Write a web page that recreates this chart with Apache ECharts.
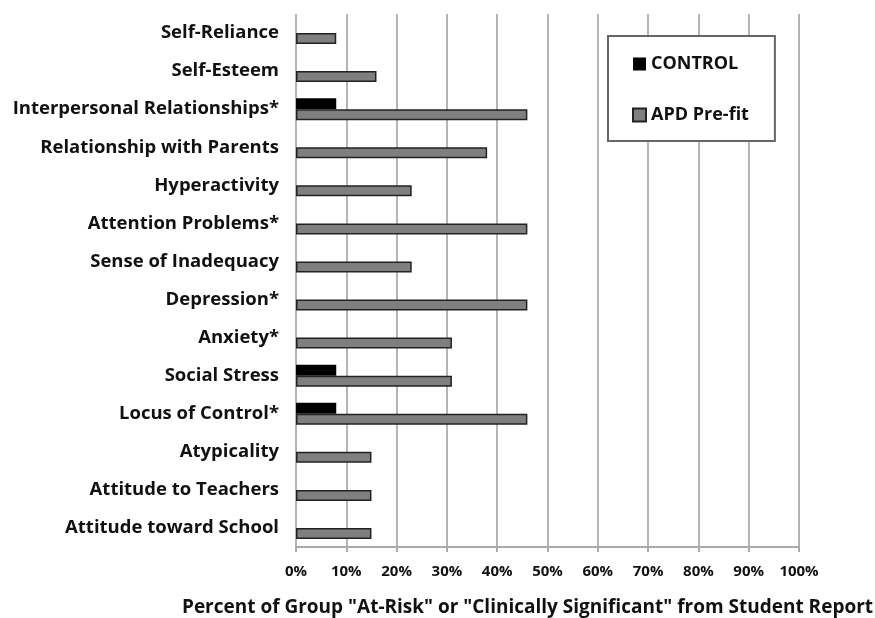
<!DOCTYPE html>
<html>
<head>
<meta charset="utf-8">
<script src="https://cdn.jsdelivr.net/npm/echarts@6/dist/echarts.min.js"></script>
<style>
  html, body { margin: 0; padding: 0; background: #fff; }
  #main { width: 875px; height: 618px; }
</style>
</head>
<body>
<div id="main"></div>
<script>
// categories, top to bottom
var categories = [
  'Self-Reliance', 'Self-Esteem', 'Interpersonal Relationships*',
  'Relationship with Parents', 'Hyperactivity', 'Attention Problems*',
  'Sense of Inadequacy', 'Depression*', 'Anxiety*', 'Social Stress',
  'Locus of Control*', 'Atypicality', 'Attitude to Teachers',
  'Attitude toward School'
]
// percent at-risk / clinically significant
var control = [0, 0, 8, 0, 0, 0, 0, 0, 0, 8, 8, 0, 0, 0]
var apdPrefit = [8, 16, 46, 38, 23, 46, 23, 46, 31, 31, 46, 15, 15, 15]

var font = '"Open Sans", sans-serif'

var chart = echarts.init(document.getElementById('main'))
chart.setOption({
  animation: false,
  backgroundColor: '#fff',
  textStyle: { fontFamily: font },
  grid: { left: 296, right: 76, top: 14, bottom: 71, containLabel: false, outerBoundsMode: 'none' },
  legend: {
    orient: 'vertical',
    left: 608, top: 36,
    padding: [19, 26, 17, 24],
    itemGap: 33,
    itemWidth: 13, itemHeight: 13,
    icon: 'rect',
    borderColor: '#666', borderWidth: 2,
    backgroundColor: '#fff',
    textStyle: { fontFamily: font, fontSize: 18, fontWeight: 'bold', color: '#111' },
    data: ['CONTROL', 'APD Pre-fit']
  },
  xAxis: {
    type: 'value',
    min: 0, max: 100, interval: 10,
    name: 'Percent of Group "At-Risk" or "Clinically Significant" from Student Report',
    nameLocation: 'middle',
    nameGap: 51,
    nameTextStyle: { fontFamily: font, fontSize: 19, fontWeight: 'bold', color: '#111', padding: [0, 40, 0, 0] },
    axisLine: { show: true, lineStyle: { color: '#aaa', width: 2 } },
    axisTick: { show: true, length: 5, lineStyle: { color: '#aaa', width: 2 } },
    axisLabel: { formatter: '{value}%', fontSize: 15, fontWeight: 'bold', color: '#111', margin: 17 },
    splitLine: { show: true, lineStyle: { color: '#b5b5b5', width: 2 } }
  },
  yAxis: {
    type: 'category',
    inverse: true,
    data: categories,
    axisLine: { show: false },
    axisTick: { show: false },
    axisLabel: { fontSize: 18.5, fontWeight: 'bold', color: '#111', margin: 17 }
  },
  series: [
    {
      name: 'CONTROL',
      type: 'bar',
      data: control,
      barWidth: 11,
      barGap: '0%',
      itemStyle: { color: '#000', borderWidth: 0 }
    },
    {
      name: 'APD Pre-fit',
      type: 'bar',
      data: apdPrefit,
      barWidth: 11,
      barGap: '0%',
      itemStyle: { color: '#7f7f7f', borderColor: '#222', borderWidth: 1.5 }
    }
  ]
})
</script>
</body>
</html>
